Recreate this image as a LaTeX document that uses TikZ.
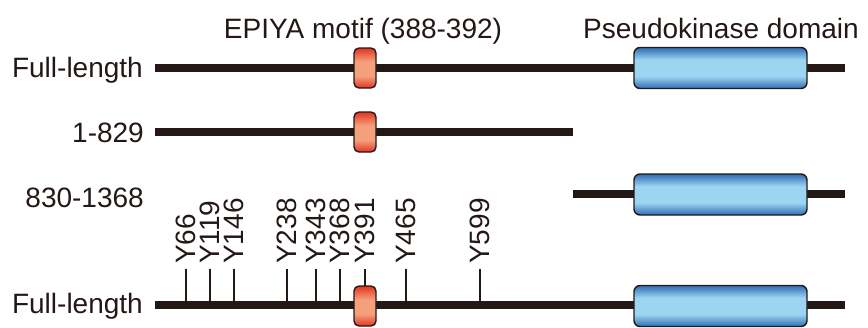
\documentclass[tikz,border=0pt]{standalone}
\usepackage{fontspec}
\setmainfont{Liberation Sans}
\definecolor{lineblk}{HTML}{231815}
\definecolor{redD}{HTML}{E2351F}
\definecolor{redL}{HTML}{F4A07C}
\definecolor{bluD}{HTML}{2E6DB4}
\definecolor{bluL}{HTML}{9DD5F1}
\pgfdeclareverticalshading{redbar}{100bp}{color(0bp)=(redD); color(25bp)=(redD); color(40bp)=(redL); color(58bp)=(redL); color(75bp)=(redD); color(100bp)=(redD)}
\pgfdeclareverticalshading{blubar}{100bp}{color(0bp)=(bluD); color(25bp)=(bluD); color(40bp)=(bluL); color(60bp)=(bluL); color(75bp)=(bluD); color(100bp)=(bluD)}
\begin{document}
\begin{tikzpicture}[x=1pt,y=-1pt,
  backbone/.style={line width=7.5pt,draw=lineblk},
  epiya/.style={draw=lineblk,line width=1.4pt,rounded corners=5pt,shading=redbar,minimum width=22pt,minimum height=40pt,inner sep=0pt},
  pkd/.style={draw=lineblk,line width=1.4pt,rounded corners=6pt,shading=blubar,minimum width=173pt,minimum height=41pt,inner sep=0pt},
  lbl/.style={font=\fontsize{28}{32}\selectfont,inner sep=0pt,text=lineblk},
  ylbl/.style={font=\fontsize{28}{32}\selectfont,inner sep=0pt,rotate=90,anchor=west,text=lineblk},
  tick/.style={line width=2.6pt,draw=lineblk}]
\useasboundingbox (0,0) rectangle (868,327);
% titles
\node[lbl,anchor=base] (t1) at (363,38) {EPIYA motif (388-392)};
\node[lbl,anchor=base] (t2) at (721,38) {Pseudokinase domain};
% row labels
\node[lbl,anchor=base east] (l1) at (143,77) {Full-length};
\node[lbl,anchor=base east] (l2) at (144,142) {1-829};
\node[lbl,anchor=base east] (l3) at (144,207) {830-1368};
\node[lbl,anchor=base east] (l4) at (143,313) {Full-length};
% backbone coordinates
\coordinate (a1) at (155,68); \coordinate (b1) at (845,68);
\coordinate (a2) at (155,132); \coordinate (b2) at (573,132);
\coordinate (a3) at (573,194); \coordinate (b3) at (845,194);
\coordinate (a4) at (155,305); \coordinate (b4) at (845,305);
\draw[backbone] (a1) -- (b1);
\draw[backbone] (a2) -- (b2);
\draw[backbone] (a3) -- (b3);
\draw[backbone] (a4) -- (b4);
% ticks and labels
\foreach \x/\t [count=\i] in {186/Y66,210/Y119,234/Y146,287/Y238,316/Y343,340/Y368,365/Y391,406/Y465,480/Y599}{
  \coordinate (tt\i) at (\x,269);
  \coordinate (tb\i) at (\x,305);
  \draw[tick] (tt\i) -- (tb\i);
  \node[ylbl] (y\i) at (\x,264) {\t};
}
% domains
\node[epiya] (e1) at (365,68) {};
\node[epiya] (e2) at (365,132) {};
\node[epiya] (e4) at (365,306) {};
\node[pkd] (p1) at (720.5,68) {};
\node[pkd] (p3) at (720.5,194.5) {};
\node[pkd] (p4) at (720.5,306) {};
\end{tikzpicture}
\end{document}
